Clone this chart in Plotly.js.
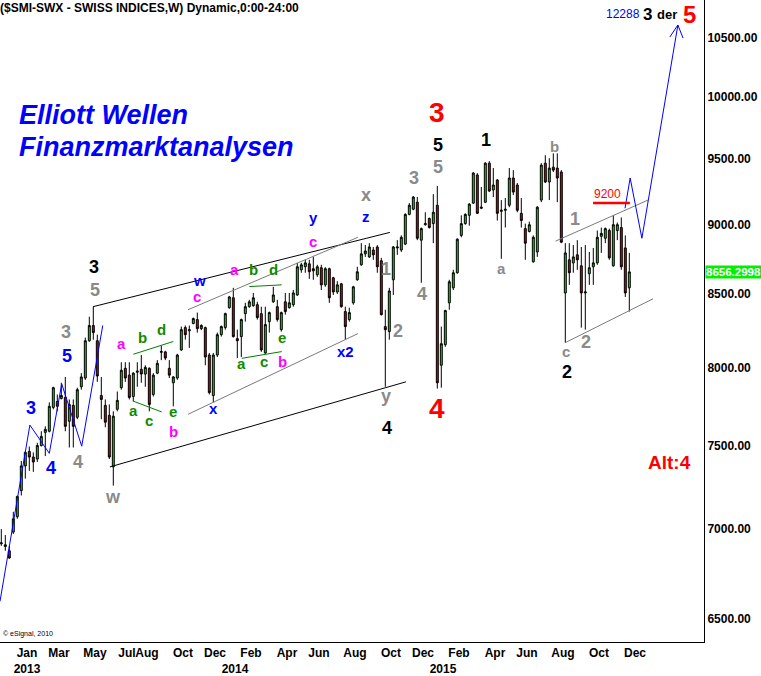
<!DOCTYPE html>
<html><head><meta charset="utf-8">
<script src="https://cdn.plot.ly/plotly-3.0.1.min.js"></script>
<style>html,body{margin:0;padding:0;background:#fff;}#chart{width:761px;height:676px;}</style>
</head><body><div id="chart"></div>
<script>
// ---------- DATA ----------
const firstWeek = '2012-12-10';   // Monday of first weekly bar
const opens = [6916,6900,6876,6983,7072,7226,7375,7464,7429,7417,
7500,7582,7589,7740,7778,7797,7804,7652,7753,7677,
7873,7930,8178,8281,8178,7816,7753,7690,7369,7728,
7867,7994,7949,7810,7968,7987,7956,7994,7823,7962,
8100,8103,7994,7899,7930,8116,8267,8245,8295,8322,
8260,8267,8082,7816,8082,8219,8267,8404,8473,8192,
8206,8363,8411,8418,8425,8363,8096,8308,8445,8411,
8253,8445,8404,8425,8493,8671,8693,8714,8679,8636,
8686,8564,8679,8614,8514,8571,8377,8322,8438,8600,
8707,8786,8764,8814,8836,8736,8274,8240,8600,8829,
8814,8857,9077,9116,9169,8886,9000,9046,9008,9146,
8014,8151,8438,8543,8650,8921,9008,9070,9162,9377,
9123,9169,9469,9262,9338,9100,9108,9146,9354,9300,
9085,8971,8950,8729,8800,9185,9469,9323,9438,9431,
9400,8507,8743,8721,8779,8700,8507,8643,8693,8721,
8914,8900,8957,8700,8957,8979,8829,8543];
const highs = [7000,6966,6904,7101,7197,7405,7464,7494,7458,7517,
7589,7620,7772,7873,7823,7899,7937,7791,7791,7867,
7962,8199,8342,8411,8219,7937,7791,7759,7715,7842,
8034,8034,8034,7968,8034,8082,8014,8000,7962,8048,
8144,8110,8048,7943,8090,8274,8281,8281,8336,8370,
8290,8274,8096,8096,8233,8281,8370,8486,8543,8253,
8329,8438,8459,8507,8445,8411,8411,8377,8550,8459,
8377,8507,8507,8528,8721,8721,8743,8743,8764,8707,
8707,8690,8686,8621,8590,8578,8411,8404,8557,8693,
8864,8850,8864,8836,8850,8757,8390,8543,8843,8886,
8921,9085,9162,9215,9208,8979,9093,9054,9230,9292,
8274,8390,8600,8671,8900,9070,9085,9162,9400,9392,
9285,9477,9485,9431,9346,9185,9200,9431,9415,9315,
9200,9008,9023,8921,9139,9469,9531,9508,9546,9546,
9415,8864,8864,8850,8886,8836,8850,8800,8829,8957,
8979,8979,8971,9070,9016,9054,8921,8793];
const lows = [6904,6876,6831,6972,7060,7197,7298,7345,7339,7399,
7494,7435,7582,7728,7715,7791,7589,7488,7488,7665,
7854,7918,8171,8185,7905,7665,7614,7417,7256,7715,
7854,7905,7791,7778,7873,7899,7873,7715,7810,7955,
8048,8048,7930,7747,7918,8110,8185,8130,8290,8233,
8250,8014,7823,7772,8069,8206,8253,8397,8199,8062,
8069,8308,8404,8411,8322,8103,8090,8233,8438,8308,
8240,8356,8398,8411,8486,8650,8650,8607,8600,8621,
8528,8550,8438,8493,8500,8404,8185,8308,8425,8593,
8700,8764,8757,8743,8650,8350,7873,8185,8493,8779,
8800,8850,9070,9108,8886,8579,8993,8971,8864,7861,
7867,8137,8390,8528,8643,8907,9000,8993,9155,9080,
9116,9162,9246,9208,9031,8750,8979,9131,9223,9093,
8979,8743,8943,8722,8764,9169,9315,9185,9400,9169,
8864,8164,8564,8650,8671,8267,8253,8564,8564,8707,
8793,8864,8743,8693,8886,8671,8479,8377];
const closes = [6921,6910,6835,7060,7191,7375,7458,7429,7399,7500,
7557,7601,7747,7867,7747,7816,7620,7759,7620,7854,
7937,8178,8281,8233,7943,7791,7646,7429,7684,7785,
7981,7930,7804,7962,7975,7956,8000,7759,7949,8027,
8105,8062,7949,7937,8082,8253,8219,8253,8329,8260,
8281,8069,7835,8082,8219,8274,8363,8479,8206,8178,
8322,8411,8445,8473,8336,8116,8288,8370,8493,8322,
8370,8377,8438,8507,8693,8707,8721,8657,8664,8693,
8564,8679,8473,8514,8564,8411,8274,8370,8550,8657,
8786,8807,8836,8779,8693,8356,8253,8521,8836,8836,
8907,9077,9146,9208,8900,8971,9008,8979,9093,7899,
8158,8384,8586,8650,8893,9008,9077,9154,9392,9085,
9131,9469,9254,9300,9085,9108,9115,9354,9246,9108,
9031,8864,9000,8907,9131,9454,9323,9431,9415,9354,
8871,8793,8650,8764,8743,8507,8514,8686,8721,8907,
8936,8971,8757,9000,9000,8693,8507,8656.2998];
const lastPrice = 8656.2998;

// axis ticks
const yTickVals = [6500,7000,7500,8000,8500,9000,9500,10000,10500];
const xTickVals = ['2013-01-24','2013-03-21','2013-05-23','2013-07-18','2013-08-22','2013-10-24','2013-12-19',
  '2014-01-23','2014-02-20','2014-04-24','2014-06-19','2014-08-21','2014-10-23','2014-12-18',
  '2015-01-22','2015-02-19','2015-04-23','2015-06-18','2015-08-20','2015-10-22','2015-12-24'];
const xTickText = ['Jan<br>2013','Mar','May','Jul','Aug','Oct','Dec',
  ' <br>2014','Feb','Apr','Jun','Aug','Oct','Dec',
  ' <br>2015','Feb','Apr','Jun','Aug','Oct','Dec'];

// drawn wave sketches and trend lines (date, price)
const waveLeftX = ['2012-12-07 17:00','2013-01-29','2013-03-04','2013-03-25 17:00','2013-04-29 17:00','2013-06-05 12:00'];
const waveLeftY = [6595,7628,7452,7892,7496,8281];
const projX = ['2015-12-06 12:00','2015-12-15 12:00','2016-01-05','2016-03-08'];
const projY = [9123,9354,8900,10613];
const arrowX = ['2016-02-23','2016-03-08','2016-03-17'];
const arrowY = [10509,10613,10500];
const upperBlackX = ['2013-05-19 12:00','2014-10-21'], upperBlackY = [8411,8943];
const lowerBlackX = ['2013-06-18','2014-11-18'], lowerBlackY = [7369,7905];
const grayUpX = ['2013-11-01 17:00','2014-08-26'], grayUpY = [8390,8907];
const grayLowX = ['2013-11-01 17:00','2014-08-26'], grayLowY = [7696,8226];
const grayUp2X = ['2015-08-07','2016-01-15 17:00'], grayUp2Y = [8879,9185];
const grayLow2X = ['2015-08-23 12:00','2016-01-24 12:00'], grayLow2Y = [8164,8466];
const green1X = ['2013-07-29','2013-10-07'], green1Y = [8087,8173];
const green2X = ['2013-07-29','2013-09-16 17:00'], green2Y = [7780,7711];
const green3X = ['2014-02-17','2014-04-14 17:00'], green3Y = [8552,8564];
const green4X = ['2014-02-03 17:00','2014-04-14 17:00'], green4Y = [8060,8105];
const level9200X = ['2015-10-11 12:00','2015-12-15'], level9200Y = [9162,9162];

// ---------- BUILD ----------
const dates = [];
{
  const d0 = new Date(firstWeek + 'T00:00:00Z');
  for (let i = 0; i < opens.length; i++) {
    const d = new Date(d0.getTime() + i * 7 * 86400000);
    dates.push(d.toISOString().slice(0, 10));
  }
}
const FONT = 'Liberation Sans, Arial, sans-serif';
const GRAY = '#8a8a8a', BLUE = '#0000ff', MAG = '#ff00ff', GRN = '#118a00', RED = '#ff0000', BLK = '#000000';

function line(x, y, color, width) {
  return {type:'scatter', mode:'lines', x:x, y:y, line:{color:color, width:width||1},
    hoverinfo:'skip', showlegend:false};
}
const traces = [
  {type:'candlestick', x:dates, open:opens, high:highs, low:lows, close:closes,
   increasing:{line:{color:'#000', width:1}, fillcolor:'#00e000'},
   decreasing:{line:{color:'#000', width:1}, fillcolor:'#e00000'},
   whiskerwidth:0, showlegend:false, hoverinfo:'skip'},
  line(upperBlackX, upperBlackY, BLK),
  line(lowerBlackX, lowerBlackY, BLK),
  line(grayUpX, grayUpY, '#7a7a7a'),
  line(grayLowX, grayLowY, '#7a7a7a'),
  line(grayUp2X, grayUp2Y, '#7a7a7a'),
  line(grayLow2X, grayLow2Y, '#7a7a7a'),
  line(green1X, green1Y, '#008000'),
  line(green2X, green2Y, '#008000'),
  line(green3X, green3Y, '#008000'),
  line(green4X, green4Y, '#008000'),
  line(waveLeftX, waveLeftY, BLUE),
  line(projX, projY, BLUE),
  line(arrowX, arrowY, BLUE),
  line(level9200X, level9200Y, RED, 2.5)
];

// text labels: [text, px x, px y (within plot area), color, size]
const labels = [
  ['3',94,267,BLK,18],['5',95,290,GRAY,18],['3',66,332,GRAY,18],['5',67,356,BLUE,18],
  ['3',31,408,BLUE,18],['4',51,468,BLUE,18],['4',78,462,GRAY,18],['w',113,497,GRAY,18],
  ['a',121,343,MAG,15],['b',142,338,GRN,15],['d',161,329,GRN,15],['a',133,410,GRN,15],
  ['c',149,420,GRN,15],['e',173,411,GRN,15],['b',173,431,MAG,15],['w',199,280,BLUE,15],
  ['c',197,296,MAG,15],['a',234,269,MAG,15],['b',253,270,GRN,15],['d',273,270,GRN,15],
  ['a',241,364,GRN,15],['c',264,361,GRN,15],['b',282,361,MAG,15],['e',282,337,GRN,15],
  ['x',213,408,BLUE,15],['y',313,217,BLUE,15],['c',313,241,MAG,15],['x',366,195,GRAY,18],
  ['z',366,216,BLUE,15],['1',386,269,GRAY,18],['2',398,331,GRAY,18],['x2',345,352,BLUE,15],
  ['y',386,396,GRAY,18],['4',387,428,BLK,18],['4',437,408,RED,28],['3',414,178,GRAY,18],
  ['5',438,167,GRAY,18],['5',438,145,BLK,18],['3',437,113,RED,28],['4',422,294,GRAY,18],
  ['1',486,140,BLK,18],['a',501,268,GRAY,15],['b',554,146,GRAY,15],['1',575,219,GRAY,18],
  ['c',566,352,GRAY,15],['2',586,342,GRAY,18],['2',567,372,BLK,18],['Alt:4',669,462,RED,19],
  ['3',647,14,BLK,17],['der',667,14,BLK,13],['5',689,14,RED,24]
];
const PW = 704, PH = 642;
const annotations = labels.map(l => ({
  text:l[0], xref:'paper', yref:'paper', x:l[1]/PW, y:1 - l[2]/PH,
  xanchor:'center', yanchor:'middle', showarrow:false,
  font:{family:FONT, size:l[4], color:l[3], weight:'bold'}
}));
annotations.push(
  {text:'12288', xref:'paper', yref:'paper', x:623/PW, y:1-14/PH, xanchor:'center', yanchor:'middle',
   showarrow:false, font:{family:FONT, size:12, color:BLUE}},
  {text:'9200', xref:'paper', yref:'paper', x:607/PW, y:1-194/PH, xanchor:'center', yanchor:'middle',
   showarrow:false, font:{family:FONT, size:12, color:RED}},
  {text:'($SMI-SWX - SWISS INDICES,W) Dynamic,0:00-24:00', xref:'paper', yref:'paper', x:-2/PW, y:1-8/PH,
   xanchor:'left', yanchor:'middle', showarrow:false, font:{family:FONT, size:12, color:BLK, weight:'bold'}},
  {text:'Elliott Wellen', xref:'paper', yref:'paper', x:17/PW, y:1-115/PH, xanchor:'left', yanchor:'middle',
   showarrow:false, font:{family:FONT, size:27, color:BLUE, weight:'bold', style:'italic'}},
  {text:'Finanzmarktanalysen', xref:'paper', yref:'paper', x:17/PW, y:1-147/PH, xanchor:'left', yanchor:'middle',
   showarrow:false, font:{family:FONT, size:27, color:BLUE, weight:'bold', style:'italic'}},
  {text:'© eSignal, 2010', xref:'paper', yref:'paper', x:1/PW, y:1-634/PH, xanchor:'left', yanchor:'middle',
   showarrow:false, font:{family:FONT, size:7, color:BLK}},
  {text:lastPrice.toFixed(4), xref:'paper', yref:'y', x:1, xshift:1, y:Math.log10(lastPrice),
   xanchor:'left', yanchor:'middle', showarrow:false, bgcolor:'#00f000', borderpad:0,
   font:{family:FONT, size:11.5, color:'#ffffff', weight:'bold'}}
);

const layout = {
  width:761, height:676,
  margin:{l:0, r:57, t:0, b:34, pad:0},
  paper_bgcolor:'#ffffff', plot_bgcolor:'#ffffff',
  showlegend:false,
  xaxis:{type:'date', range:['2012-12-07 17:00','2016-04-22 17:00'],
    showgrid:false, zeroline:false, showline:true, linecolor:'#000', linewidth:1,
    ticks:'', tickangle:0, tickvals:xTickVals, ticktext:xTickText,
    tickfont:{family:FONT, size:12, color:'#000', weight:'bold'},
    rangeslider:{visible:false}, fixedrange:true},
  yaxis:{type:'log', side:'right', range:[3.804625, 4.034814],
    showgrid:false, zeroline:false, showline:true, linecolor:'#000', linewidth:1,
    ticks:'', tickvals:yTickVals, ticktext:yTickVals.map(v => v.toFixed(2)),
    tickfont:{family:FONT, size:12, color:'#000', weight:'bold'}, fixedrange:true},
  annotations:annotations
};
Plotly.newPlot('chart', traces, layout, {displayModeBar:false, staticPlot:true});
</script></body></html>
